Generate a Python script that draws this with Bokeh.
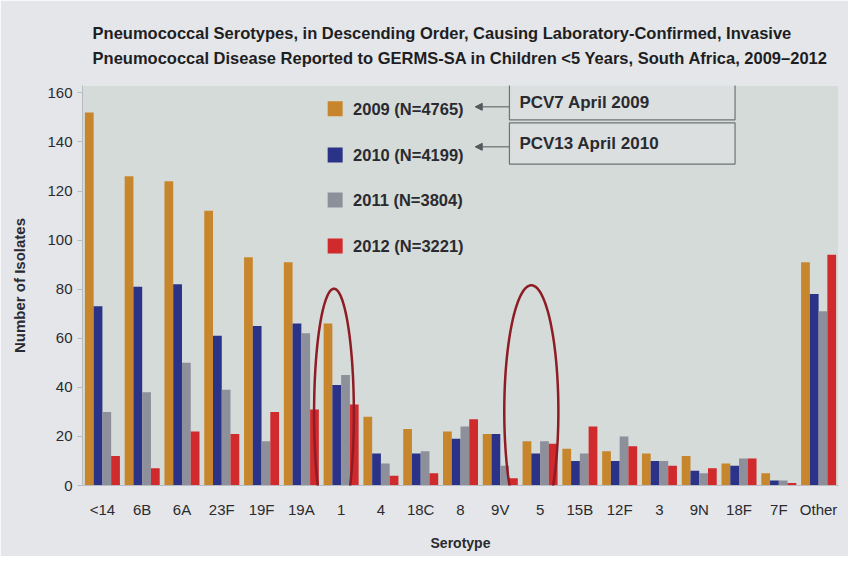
import numpy as np
from bokeh.plotting import figure
from bokeh.models import ColumnDataSource, FactorRange, Label, BoxAnnotation, Arrow, NormalHead, PolyAnnotation, FixedTicker
from bokeh.transform import dodge
from bokeh.core.properties import value
from bokeh.embed import file_html
from bokeh.resources import INLINE

serotypes = ["<14", "6B", "6A", "23F", "19F", "19A", "1", "4", "18C", "8", "9V", "5",
             "15B", "12F", "3", "9N", "18F", "7F", "Other"]
y2009 = [152, 126, 124, 112, 93, 91, 66, 28, 23, 22, 21, 18, 15, 14, 13, 12, 9, 5, 91]
y2010 = [73, 81, 82, 61, 65, 66, 41, 13, 13, 19, 21, 13, 10, 10, 10, 6, 8, 2, 78]
y2011 = [30, 38, 50, 39, 18, 62, 45, 9, 14, 24, 8, 18, 13, 20, 10, 5, 11, 2, 71]
y2012 = [12, 7, 22, 21, 30, 31, 33, 4, 5, 27, 3, 17, 24, 16, 8, 7, 11, 1, 94]
series_labels = ["2009 (N=4765)", "2010 (N=4199)", "2011 (N=3804)", "2012 (N=3221)"]
colors = ["#c8862c", "#2a3388", "#8d8f9a", "#d02a2c"]
y_ticks = [0, 20, 40, 60, 80, 100, 120, 140, 160]

FONT = "Liberation Sans"

src = ColumnDataSource(dict(sero=serotypes, y09=y2009, y10=y2010, y11=y2011, y12=y2012))

p = figure(x_range=FactorRange(factors=serotypes), y_range=(0, 163),
           width=848, height=556, output_backend="svg", toolbar_location=None,
           title="Pneumococcal Serotypes, in Descending Order, Causing Laboratory-Confirmed, Invasive\nPneumococcal Disease Reported to GERMS-SA in Children <5 Years, South Africa, 2009\u20132012",
           min_border_left=82, min_border_right=10, min_border_top=85, min_border_bottom=71)

p.background_fill_color = "#d5dbd8"
p.border_fill_color = "#e4e6e9"
p.outline_line_color = None
p.grid.visible = False

p.title.text_font = FONT
p.title.text_font_size = "16.5px"
p.title.text_font_style = "bold"
p.title.text_color = "#1e1e22"
p.title.text_line_height = 1.4
p.title.align = "center"
p.title.offset = -30
p.title.standoff = 37

cols = ["y09", "y10", "y11", "y12"]
offs = [-0.33, -0.11, 0.11, 0.33]
for c, o, col in zip(cols, offs, colors):
    p.vbar(x=dodge("sero", o, range=p.x_range), top=c, width=0.22, source=src,
           fill_color=col, line_color=None)

# axes
p.yaxis.ticker = FixedTicker(ticks=y_ticks)
p.yaxis.minor_tick_line_color = None
p.yaxis.axis_line_color = "#b8bcc0"
p.yaxis.major_tick_line_color = "#b8bcc0"
p.yaxis.major_tick_out = 5
p.yaxis.major_tick_in = 0
p.yaxis.major_label_text_font = FONT
p.yaxis.major_label_text_font_size = "15px"
p.yaxis.major_label_text_color = "#2a2a30"
p.yaxis.axis_label = "Number of Isolates"
p.yaxis.axis_label_text_font = FONT
p.yaxis.axis_label_text_font_size = "15px"
p.yaxis.axis_label_text_font_style = "bold"
p.yaxis.axis_label_text_color = "#2a2a30"
p.yaxis.axis_label_standoff = 16

p.xaxis.axis_line_color = "#b8bcc0"
p.xaxis.major_tick_line_color = None
p.xaxis.major_label_text_font = FONT
p.xaxis.major_label_text_font_size = "15px"
p.xaxis.major_label_text_color = "#2a2a30"
p.xaxis.major_label_standoff = 9
p.xaxis.axis_label = "Serotype"
p.xaxis.axis_label_text_font = FONT
p.xaxis.axis_label_text_font_size = "14px"
p.xaxis.axis_label_text_font_style = "bold"
p.xaxis.axis_label_text_color = "#2a2a30"
p.xaxis.axis_label_standoff = 14

# manual legend
leg_x = 6.35
leg_y = [153.5, 134.7, 116.3, 97.6]
p.scatter(x=[leg_x] * 4, y=leg_y, marker="square", size=15, fill_color=colors, line_color=None)
p.text(x=[leg_x + 0.45] * 4, y=leg_y, text=series_labels, text_font=value(FONT),
       text_font_size="16.5px", text_font_style="bold", text_baseline="middle",
       text_color="#2a2a30")

# vaccine boxes
for (l, r, b, t), txt, ty, ay in [((10.73, 16.4, 149.0, 163.5), "PCV7 April 2009", 156.0, 154.3),
                                  ((10.73, 16.4, 131.0, 147.8), "PCV13 April 2010", 139.4, 138.0)]:
    p.add_layout(BoxAnnotation(left=l, right=r, bottom=b, top=t, fill_color="#dde1e3",
                               fill_alpha=0.7, line_color="#6e7276", line_alpha=1.0, line_width=1.2))
    p.add_layout(Label(x=l + 0.25, y=ty, text=txt, text_font=FONT, text_font_size="17px",
                       text_font_style="bold", text_color="#2a2a30", text_baseline="middle"))
    p.add_layout(Arrow(x_start=l, y_start=ay, x_end=9.87, y_end=ay, line_color="#55585c",
                       line_width=1, end=NormalHead(size=7, fill_color="#55585c", line_color="#55585c")))

# red ellipses
theta = np.linspace(0, 2 * np.pi, 120)
for cx, rx, cy, ry in [(6.32, 0.5, 29.4, 50.8), (11.28, 0.68, 30.2, 51.4)]:
    p.add_layout(PolyAnnotation(xs=list(cx + rx * np.cos(theta)), ys=list(cy + ry * np.sin(theta)),
                                fill_alpha=0, line_color="#8e1c24", line_alpha=1.0, line_width=2.5))

open("out.html", "w").write(file_html(p, INLINE))
